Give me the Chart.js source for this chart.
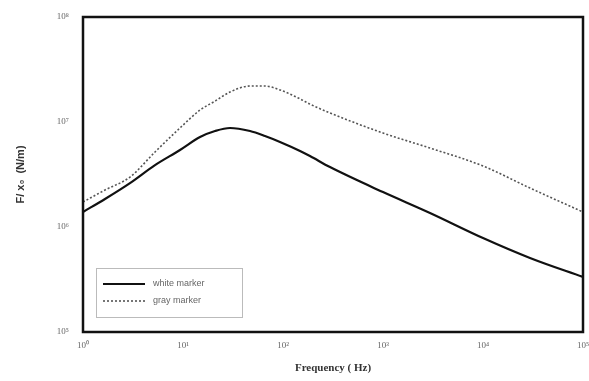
<!DOCTYPE html>
<html>
<head>
<meta charset="utf-8">
<script src="https://cdn.jsdelivr.net/npm/chart.js@4.4.1/dist/chart.umd.min.js"></script>
<style>
html,body{margin:0;padding:0;background:#fff;}
#wrap{width:589px;height:381px;}
</style>
</head>
<body>
<div id="wrap"><canvas id="c" width="589" height="381"></canvas></div>
<script>
const frequency = [1, 1.66, 2.95, 5.25, 9.33, 14.8, 20.9, 29.5, 46.8, 66, 93.3, 148, 186, 295, 1000, 2950, 10000, 29500, 100000];
const whiteMarker = [1.39e6, 1.85e6, 2.62e6, 3.89e6, 5.41e6, 7.19e6, 8.20e6, 8.77e6, 8.20e6, 7.36e6, 6.46e6, 5.30e6, 4.74e6, 3.72e6, 2.15e6, 1.36e6, 7.85e5, 5.07e5, 3.34e5];
const grayMarker = [1.73e6, 2.25e6, 2.99e6, 5.18e6, 8.77e6, 1.30e7, 1.58e7, 1.93e7, 2.20e7, 2.20e7, 2.02e7, 1.66e7, 1.48e7, 1.22e7, 7.85e6, 5.65e6, 3.81e6, 2.35e6, 1.39e6];
const xTicks = [1, 10, 100, 1000, 10000, 100000];
const yTicks = [1e5, 1e6, 1e7, 1e8];
const seriesNames = ['white marker', 'gray marker'];

const sup = {'0':'⁰','1':'¹','2':'²','3':'³','4':'⁴','5':'⁵','6':'⁶','7':'⁷','8':'⁸','9':'⁹','-':'⁻'};
function pow10Label(v){
  const e = Math.round(Math.log10(v));
  return '10' + String(e).split('').map(ch => sup[ch]).join('');
}

const framePlugin = {
  id: 'frame',
  afterDatasetsDraw(chart){
    const {ctx, chartArea: a} = chart;
    ctx.save();
    ctx.strokeStyle = '#111';
    ctx.lineWidth = 2.5;
    ctx.strokeRect(a.left, a.top, a.right - a.left, a.bottom - a.top);
    // legend box
    const bx = 96, by = 268, bw = 146, bh = 49;
    ctx.lineWidth = 1;
    ctx.strokeStyle = '#bbb';
    ctx.fillStyle = '#fff';
    ctx.fillRect(bx, by, bw, bh);
    ctx.strokeRect(bx + 0.5, by + 0.5, bw, bh);
    const ds = chart.data.datasets;
    const rows = [284, 301];
    ds.forEach((d, i) => {
      ctx.beginPath();
      ctx.strokeStyle = d.borderColor;
      ctx.lineWidth = d.borderWidth;
      ctx.setLineDash(d.borderDash || []);
      ctx.moveTo(103, rows[i]);
      ctx.lineTo(145, rows[i]);
      ctx.stroke();
      ctx.setLineDash([]);
      ctx.fillStyle = '#666';
      ctx.font = '9px "Liberation Sans", Arial, sans-serif';
      ctx.textBaseline = 'middle';
      ctx.textAlign = 'left';
      ctx.fillText(d.label, 153, rows[i]);
    });
    ctx.restore();
  }
};

new Chart(document.getElementById('c'), {
  type: 'line',
  data: {
    datasets: [
      {
        label: seriesNames[0],
        data: frequency.map((f, i) => ({x: f, y: whiteMarker[i]})),
        borderColor: '#111',
        borderWidth: 2.2,
        pointRadius: 0,
        cubicInterpolationMode: 'monotone',
        fill: false
      },
      {
        label: seriesNames[1],
        data: frequency.map((f, i) => ({x: f, y: grayMarker[i]})),
        borderColor: '#555',
        borderWidth: 1.6,
        borderDash: [2, 2],
        pointRadius: 0,
        cubicInterpolationMode: 'monotone',
        fill: false
      }
    ]
  },
  options: {
    responsive: false,
    animation: false,
    devicePixelRatio: 1,
    layout: {padding: {left: 0, top: 17, right: 6, bottom: 0}},
    plugins: {legend: {display: false}, tooltip: {enabled: false}},
    scales: {
      x: {
        type: 'logarithmic',
        min: 1, max: 100000,
        afterBuildTicks: s => { s.ticks = xTicks.map(v => ({value: v})); },
        afterFit: s => { s.height = 49; s.paddingLeft = 0; s.paddingRight = 0; },
        grid: {display: false, drawTicks: false},
        border: {display: false},
        ticks: {
          callback: v => pow10Label(v),
          maxRotation: 0, autoSkip: false,
          padding: 8,
          color: '#666',
          font: {size: 9, family: '"Liberation Serif", serif'}
        },
        title: {
          display: true,
          text: 'Frequency ( Hz)',
          color: '#333',
          padding: {top: 4, bottom: 6},
          font: {size: 11, weight: 'bold', family: '"Liberation Serif", serif'}
        }
      },
      y: {
        type: 'logarithmic',
        min: 1e5, max: 1e8,
        afterBuildTicks: s => { s.ticks = yTicks.map(v => ({value: v})); },
        afterFit: s => { s.width = 83; s.paddingTop = 0; s.paddingBottom = 0; },
        grid: {display: false, drawTicks: false},
        border: {display: false},
        ticks: {
          callback: v => pow10Label(v),
          autoSkip: false,
          padding: 14,
          color: '#666',
          font: {size: 9, family: '"Liberation Serif", serif'}
        },
        title: {
          display: true,
          text: 'F/ x₀  (N/m)',
          color: '#333',
          padding: {top: 14, bottom: 0},
          font: {size: 11, weight: 'bold', family: '"Liberation Sans", Arial, sans-serif'}
        }
      }
    }
  },
  plugins: [framePlugin]
});
</script>
</body>
</html>
